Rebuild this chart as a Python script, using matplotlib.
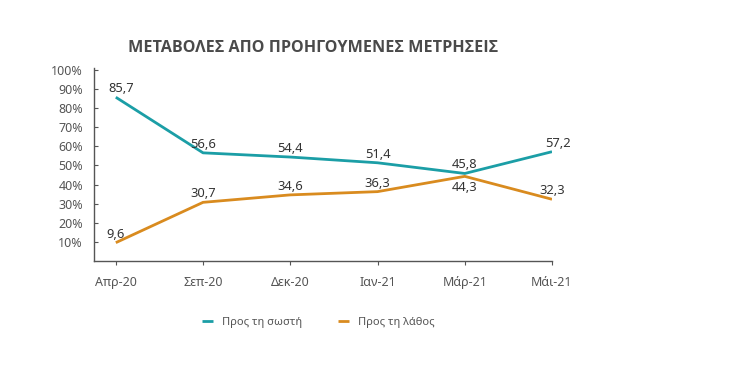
import matplotlib
matplotlib.use("Agg")
import matplotlib.pyplot as plt

plt.rcParams['font.family'] = ['Noto Sans', 'DejaVu Sans']

categories = ["Απρ-20", "Σεπ-20", "Δεκ-20", "Ιαν-21", "Μάρ-21", "Μάι-21"]
correct = [85.7, 56.6, 54.4, 51.4, 45.8, 57.2]
wrong = [9.6, 30.7, 34.6, 36.3, 44.3, 32.3]
series_names = ["Προς τη σωστή", "Προς τη λάθος"]
title = "ΜΕΤΑΒΟΛΕΣ ΑΠΟ ΠΡΟΗΓΟΥΜΕΝΕΣ ΜΕΤΡΗΣΕΙΣ"

teal = "#1b9ea6"
orange = "#d98b1f"

fig = plt.figure(figsize=(7.34, 3.79), dpi=100)
ax = fig.add_axes([94/734, 1-261/379, (552-94)/734, (261-68)/379])

x = list(range(len(categories)))
ax.plot(x, correct, color=teal, lw=2.0, label=series_names[0], solid_capstyle='butt')
ax.plot(x, wrong, color=orange, lw=2.0, label=series_names[1], solid_capstyle='butt')

def fmt(v):
    return f"{v:.1f}".replace(".", ",")

lab_kw = dict(fontsize=9.3, color="#333333", ha="center")
for i, v in enumerate(correct):
    dx = 4 if i in (0, 5) else 0
    ax.annotate(fmt(v), (i, v), xytext=(dx, 1.5), textcoords="offset points", va="bottom", **lab_kw)
for i, v in enumerate(wrong):
    if i == 4:
        ax.annotate(fmt(v), (i, v), xytext=(0, -3), textcoords="offset points", va="top", **lab_kw)
    else:
        ax.annotate(fmt(v), (i, v), xytext=(0, 1.5), textcoords="offset points", va="bottom", **lab_kw)

ax.set_xlim(-0.25, 5.0)
ax.set_ylim(0, 101)
ax.set_yticks(range(10, 101, 10))
ax.set_yticklabels([f"{t}%" for t in range(10, 101, 10)])
ax.set_xticks(x)
ax.set_xticklabels(categories)

for s in ["top", "right"]:
    ax.spines[s].set_visible(False)
for s in ["left", "bottom"]:
    ax.spines[s].set_color("#555555")
    ax.spines[s].set_linewidth(1.0)
ax.tick_params(axis="y", direction="in", length=3, colors="#555555", labelsize=9, pad=8)
ax.tick_params(axis="x", direction="out", length=3, colors="#555555", labelsize=9, pad=8)
for lbl in ax.get_xticklabels() + ax.get_yticklabels():
    lbl.set_color("#555555")

fig.text(313/734, 1-48/379, title, ha="center", va="center", fontsize=11.6,
         fontweight="bold", color="#4a4a4a", family=["Open Sans", "DejaVu Sans"])

fig.legend(loc="center", bbox_to_anchor=(318/734, 1-322/379), ncol=2, frameon=False,
           fontsize=8, handlelength=1.0, columnspacing=3.2, handletextpad=0.8,
           labelcolor="#555555")

fig.savefig("out.png", dpi=100, facecolor="white")
